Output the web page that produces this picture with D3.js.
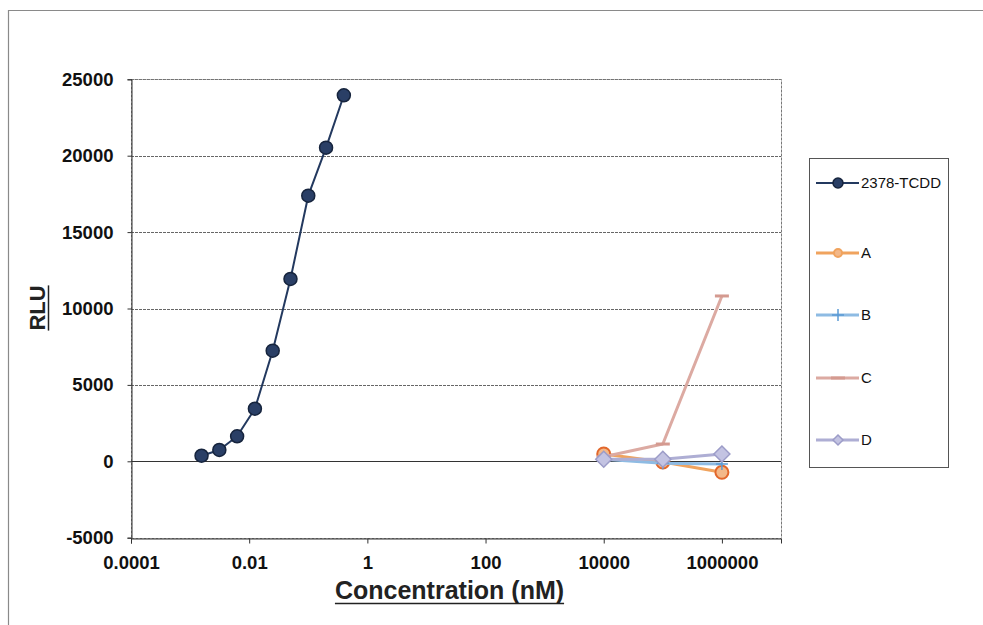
<!DOCTYPE html>
<html>
<head>
<meta charset="utf-8">
<script src="https://cdn.jsdelivr.net/npm/d3@7"></script>
<style>
body { margin: 0; background: #fff; }
svg { display: block; }
</style>
</head>
<body>
<div id="chart"></div>
<script>
// data
var tcddConc = [0.0015625, 0.003125, 0.00625, 0.0125, 0.025, 0.05, 0.1, 0.2, 0.4];
var tcddRLU = [367, 740, 1636, 3443, 7239, 11932, 17384, 20525, 23955];
var cmpConc = [10000, 100000, 1000000];
var aRLU = [478, -50, -720];
var bRLU = [130, -130, -180];
var cRLU = [300, 1130, 10820];
var dRLU = [130, 130, 478];
var xTicks = [0.0001, 0.01, 1, 100, 10000, 1000000];
var xTickLabels = ['0.0001', '0.01', '1', '100', '10000', '1000000'];
var yTicks = [-5000, 0, 5000, 10000, 15000, 20000, 25000];
var seriesNames = ['2378-TCDD', 'A', 'B', 'C', 'D'];

var W = 983;
var H = 625;
var pL = 131;
var pR = 781;
var pT = 79.3;
var pB = 537.7;
var fontFam = 'Arial, "Liberation Sans", sans-serif';

var svg = d3.select('#chart').append('svg')
    .attr('width', W)
    .attr('height', H);

svg.append('rect').attr('width', W).attr('height', H).attr('fill', '#fff');

// outer frame of the chart
svg.append('path')
    .attr('d', 'M8.5,' + H + 'V10.5H' + W)
    .attr('fill', 'none')
    .attr('stroke', '#8a8a8a')
    .attr('stroke-width', 1.2);

var x = d3.scaleLog().domain([1e-4, 1e7]).range([pL, pR]);
var y = d3.scaleLinear().domain([-5000, 25000]).range([pB, pT]);

// grid lines
svg.append('g').selectAll('line')
    .data(yTicks.filter(function(d) { return d > -5000; }))
    .enter().append('line')
    .attr('x1', pL).attr('x2', pR)
    .attr('y1', function(d) { return Math.round(y(d)) + 0.5; })
    .attr('y2', function(d) { return Math.round(y(d)) + 0.5; })
    .attr('stroke', function(d) { return d == 0 ? '#333' : '#666'; })
    .attr('stroke-width', 1)
    .attr('stroke-dasharray', function(d) { return d == 0 ? null : '3,1'; });

// plot border
svg.append('rect')
    .attr('x', pL + 0.5).attr('y', Math.round(pT) + 0.5)
    .attr('width', pR - pL).attr('height', Math.round(pB) - Math.round(pT))
    .attr('fill', 'none')
    .attr('stroke', '#777')
    .attr('stroke-dasharray', '3,1');

// axes
var xAxis = d3.axisBottom(x)
    .tickValues(xTicks)
    .tickSize(5)
    .tickFormat(function(d, i) { return xTickLabels[i]; });
var gx = svg.append('g')
    .attr('transform', 'translate(0,' + (Math.round(pB) + 0.5) + ')')
    .call(xAxis);
gx.select('.domain').attr('stroke', '#333');
gx.selectAll('.tick line').attr('stroke', '#333');
gx.selectAll('.tick text')
    .attr('y', 17)
    .attr('dy', '0.71em')
    .style('font-family', fontFam)
    .style('font-size', '18.5px')
    .style('font-weight', 'bold')
    .attr('fill', '#111');

var yAxis = d3.axisLeft(y)
    .tickValues(yTicks)
    .tickSize(4)
    .tickFormat(function(d) { return String(d); });
var gy = svg.append('g')
    .attr('transform', 'translate(' + (pL + 0.5) + ',0)')
    .call(yAxis);
gy.select('.domain').attr('stroke', '#333');
gy.selectAll('.tick line').attr('stroke', '#333');
gy.selectAll('.tick text')
    .attr('x', -18)
    .style('font-family', fontFam)
    .style('font-size', '18.5px')
    .style('font-weight', 'bold')
    .attr('fill', '#111');

// axis titles
var xt = svg.append('text')
    .attr('x', 449.5).attr('y', 599)
    .attr('text-anchor', 'middle')
    .style('font-family', fontFam)
    .style('font-size', '25px')
    .style('font-weight', 'bold')
    .attr('fill', '#222')
    .text('Concentration (nM)');
var xb = xt.node().getBBox();
svg.append('line')
    .attr('x1', xb.x).attr('x2', xb.x + xb.width)
    .attr('y1', 603.5).attr('y2', 603.5)
    .attr('stroke', '#222').attr('stroke-width', 1.5);

var yt = svg.append('text')
    .attr('transform', 'translate(45,308) rotate(-90)')
    .attr('text-anchor', 'middle')
    .style('font-family', fontFam)
    .style('font-size', '22px')
    .style('font-weight', 'bold')
    .attr('fill', '#222')
    .text('RLU');
var yb = yt.node().getBBox();
svg.append('line')
    .attr('x1', 48.5).attr('x2', 48.5)
    .attr('y1', 308 - yb.width / 2).attr('y2', 308 + yb.width / 2)
    .attr('stroke', '#222').attr('stroke-width', 1.5);

// series
var line = d3.line()
    .x(function(d) { return x(d[0]); })
    .y(function(d) { return y(d[1]); });

var series = [
    { name: seriesNames[0], pts: d3.zip(tcddConc, tcddRLU), color: '#23395f', width: 2, mark: 'circle' },
    { name: seriesNames[1], pts: d3.zip(cmpConc, aRLU), color: '#f0a35e', width: 3, mark: 'bigcircle' },
    { name: seriesNames[2], pts: d3.zip(cmpConc, bRLU), color: '#8ebbe3', width: 3, mark: 'plus' },
    { name: seriesNames[3], pts: d3.zip(cmpConc, cRLU), color: '#dcaaa2', width: 3, mark: 'dash' },
    { name: seriesNames[4], pts: d3.zip(cmpConc, dRLU), color: '#aeaed4', width: 3, mark: 'diamond' }
];

function drawMark(g, s, cx, cy, legend) {
    if (s.mark == 'circle') {
        g.append('circle').attr('cx', cx).attr('cy', cy).attr('r', legend ? 5 : 6.5)
            .attr('fill', '#2a3f66').attr('stroke', '#16243d').attr('stroke-width', 1.5);
    } else if (s.mark == 'bigcircle') {
        g.append('circle').attr('cx', cx).attr('cy', cy).attr('r', legend ? 4 : 6.5)
            .attr('fill', '#f3b889').attr('stroke', legend ? '#f0a35e' : '#e2672b').attr('stroke-width', 2);
    } else if (s.mark == 'plus') {
        g.append('path')
            .attr('d', 'M' + cx + ',' + (cy - 6) + 'V' + (cy + 6) + 'M' + (cx - 6) + ',' + cy + 'H' + (cx + 6))
            .attr('stroke', '#5b9bd5').attr('stroke-width', 1.5);
    } else if (s.mark == 'dash') {
        g.append('path')
            .attr('d', 'M' + (cx - 7) + ',' + cy + 'H' + (cx + 7))
            .attr('stroke', '#d49a90').attr('stroke-width', 3);
    } else if (s.mark == 'diamond') {
        var r = legend ? 5 : 8;
        g.append('path')
            .attr('d', 'M' + cx + ',' + (cy - r) + 'L' + (cx + r) + ',' + cy + 'L' + cx + ',' + (cy + r) + 'L' + (cx - r) + ',' + cy + 'Z')
            .attr('fill', '#c3c3e2').attr('stroke', '#9c9cc8').attr('stroke-width', 1.5);
    }
}

var gs = svg.append('g');
series.forEach(function(s) {
    var g = gs.append('g');
    g.append('path')
        .attr('d', line(s.pts))
        .attr('fill', 'none')
        .attr('stroke', s.color)
        .attr('stroke-width', s.width)
        .attr('stroke-linejoin', 'round');
    s.pts.forEach(function(p) {
        drawMark(g, s, x(p[0]), y(p[1]), false);
    });
});

// legend
var lg = svg.append('g');
lg.append('rect')
    .attr('x', 809.5).attr('y', 158.5)
    .attr('width', 139).attr('height', 309)
    .attr('fill', '#fff')
    .attr('stroke', '#555');

var legendY = [183, 253, 315, 378, 440];
series.forEach(function(s, i) {
    var ly = legendY[i];
    lg.append('line')
        .attr('x1', 816).attr('x2', 859)
        .attr('y1', ly).attr('y2', ly)
        .attr('stroke', s.color)
        .attr('stroke-width', s.width);
    drawMark(lg, s, 838, ly, true);
    lg.append('text')
        .attr('x', 861).attr('y', ly)
        .attr('dy', '0.36em')
        .style('font-family', fontFam)
        .style('font-size', '15px')
        .attr('fill', '#111')
        .text(s.name);
});
</script>
</body>
</html>
